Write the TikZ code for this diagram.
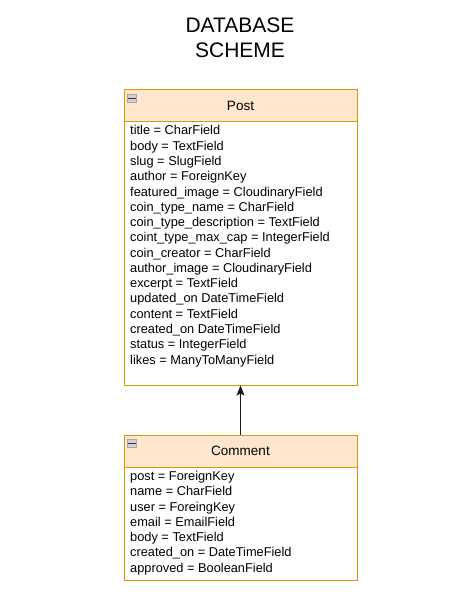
\documentclass[tikz,border=0pt]{standalone}
\usepackage{fontspec}
\setmainfont{Liberation Sans}
\usetikzlibrary{arrows.meta}
\definecolor{hdrfill}{HTML}{FFE6CC}
\definecolor{hdrdraw}{HTML}{D79B00}
\begin{document}
\begin{tikzpicture}[x=1pt,y=-1pt,
  box/.style={draw=hdrdraw,line width=1pt,fill=white},
  hdr/.style={draw=hdrdraw,line width=1pt,fill=hdrfill},
  fields/.style={anchor=north west,inner sep=0pt,align=left,font=\fontsize{12.8}{15.27}\selectfont},
  hdrtext/.style={font=\fontsize{13.5}{15}\selectfont},
  icon/.style={draw=gray!70,fill=gray!35,line width=0.4pt},
  link/.style={draw=black!90,line width=1.2pt,-{Stealth[length=10pt,width=8pt,inset=2pt]}}]
\useasboundingbox (0,0) rectangle (467,596);
\node[font=\fontsize{21}{25}\selectfont,align=center] (title) at (240,37.5) {DATABASE\\SCHEME};
% Post
\draw[box] (124,90) rectangle (357,385);
\draw[hdr] (124,90) rectangle (357,122);
\node[hdrtext] (posth) at (240.5,105.5) {Post};
\draw[icon] (127.5,94.5) rectangle (136.5,102.5);
\draw[black!80,line width=1.2pt] (128,98.5) -- (136,98.5);
\node[fields] (postf) at (130,125.5) {title = CharField\\body = TextField\\slug = SlugField\\author = ForeignKey\\featured\_image = CloudinaryField\\coin\_type\_name = CharField\\coin\_type\_description = TextField\\coint\_type\_max\_cap = IntegerField\\coin\_creator = CharField\\author\_image = CloudinaryField\\excerpt = TextField\\updated\_on DateTimeField\\content = TextField\\created\_on DateTimeField\\status = IntegerField\\likes = ManyToManyField};
\coordinate (postb) at (240.5,385.5);
% Comment
\draw[box] (124,435) rectangle (357,580);
\draw[hdr] (124,435) rectangle (357,467);
\node[hdrtext] (commh) at (240.5,450.5) {Comment};
\draw[icon] (127.5,439.5) rectangle (136.5,447.5);
\draw[black!80,line width=1.2pt] (128,443.5) -- (136,443.5);
\node[fields] (commf) at (130,471) {post = ForeignKey\\name = CharField\\user = ForeingKey\\email = EmailField\\body = TextField\\created\_on = DateTimeField\\approved = BooleanField};
\coordinate (commt) at (240.5,434.5);
\draw[link] (commt) -- (postb);
\end{tikzpicture}
\end{document}
